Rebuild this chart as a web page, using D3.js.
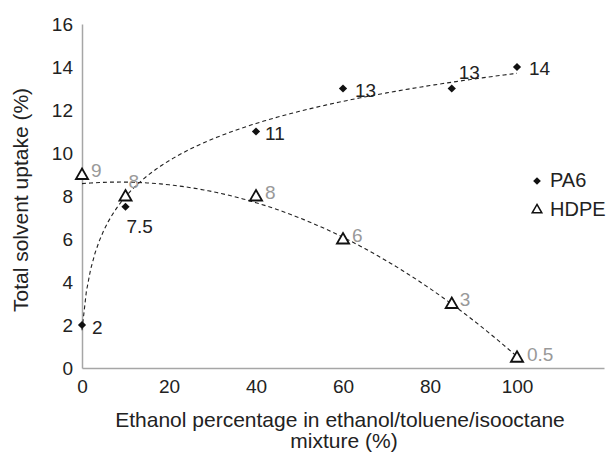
<!DOCTYPE html>
<html>
<head>
<meta charset="utf-8">
<script src="https://cdn.jsdelivr.net/npm/d3@7"></script>
<style>
    body { margin: 0; background: #fff; }
    text { font-family: "Liberation Sans", Arial, sans-serif; }
</style>
</head>
<body>
<div id="chart"></div>
<script>
// Solvent uptake vs ethanol share
const ethanol = [0, 10, 40, 60, 85, 100];
const pa6Uptake = [2, 7.5, 11, 13, 13, 14];
const hdpeUptake = [9, 8, 8, 6, 3, 0.5];
const pa6Labels = ['2', '7.5', '11', '13', '13', '14'];
const hdpeLabels = ['9', '8', '8', '6', '3', '0.5'];
const xTicks = [0, 20, 40, 60, 80, 100];
const yTicks = [0, 2, 4, 6, 8, 10, 12, 14, 16];

(function () {
    const width = 610;
    const height = 454;
    const margin = { top: 24, right: 6, bottom: 86, left: 82 };

    const svg = d3.select('#chart')
        .append('svg')
        .attr('width', width)
        .attr('height', height);

    const x = d3.scaleLinear().domain([0, 120]).range([margin.left, width - margin.right]);
    const y = d3.scaleLinear().domain([0, 16]).range([height - margin.bottom, margin.top]);

    // axes: plain grey lines, no tick marks
    const xAxis = svg.append('g')
        .attr('transform', `translate(0,${y(0)})`)
        .call(d3.axisBottom(x).tickValues(xTicks).tickSize(0).tickPadding(12));
    const yAxis = svg.append('g')
        .attr('transform', `translate(${x(0)},0)`)
        .call(d3.axisLeft(y).tickValues(yTicks).tickSize(0).tickPadding(9));

    [xAxis, yAxis].forEach(g => {
        g.select('.domain').attr('stroke', '#a6a6a6').attr('stroke-width', 1.5);
        g.selectAll('text')
            .attr('font-size', 19)
            .attr('fill', '#222')
            .attr('font-family', '"Liberation Sans", Arial, sans-serif');
    });

    // trend lines fitted from the data arrays
    // PA6: y = a + b*ln(x+1)
    const lx = ethanol.map(v => Math.log(v + 1));
    const mx = d3.mean(lx), my = d3.mean(pa6Uptake);
    const b = d3.sum(lx, (v, i) => (v - mx) * (pa6Uptake[i] - my)) / d3.sum(lx, v => (v - mx) ** 2);
    const a = my - b * mx;
    const pa6Fit = d3.range(0, 100.5, 1).map(v => [v, a + b * Math.log(v + 1)]);

    // HDPE: 2nd order polynomial
    const n = ethanol.length;
    const s = k => d3.sum(ethanol, v => v ** k);
    const t = k => d3.sum(ethanol, (v, i) => v ** k * hdpeUptake[i]);
    const M = [[n, s(1), s(2)], [s(1), s(2), s(3)], [s(2), s(3), s(4)]];
    const R = [t(0), t(1), t(2)];
    const det3 = m => m[0][0] * (m[1][1] * m[2][2] - m[1][2] * m[2][1])
        - m[0][1] * (m[1][0] * m[2][2] - m[1][2] * m[2][0])
        + m[0][2] * (m[1][0] * m[2][1] - m[1][1] * m[2][0]);
    const D = det3(M);
    const coef = [0, 1, 2].map(c => det3(M.map((row, r) => row.map((v, j) => j === c ? R[r] : v))) / D);
    const hdpeFit = d3.range(0, 100.5, 1).map(v => [v, coef[0] + coef[1] * v + coef[2] * v * v]);

    const line = d3.line().x(d => x(d[0])).y(d => y(d[1]));

    [pa6Fit, hdpeFit].forEach(fit => {
        svg.append('path')
            .datum(fit)
            .attr('d', line)
            .attr('fill', 'none')
            .attr('stroke', '#222')
            .attr('stroke-width', 1.1)
            .attr('stroke-dasharray', '4,3');
    });

    const diamond = d3.symbol().type(d3.symbolSquare).size(34);
    const triangle = d3.symbol().type(d3.symbolTriangle).size(64);

    // HDPE points
    svg.selectAll('.hdpe')
        .data(ethanol)
        .enter()
        .append('path')
        .attr('class', 'hdpe')
        .attr('d', triangle)
        .attr('transform', (d, i) => `translate(${x(d)},${y(hdpeUptake[i]) + 1})`)
        .attr('fill', '#fff')
        .attr('stroke', '#111')
        .attr('stroke-width', 1.8);

    // PA6 points
    svg.selectAll('.pa6')
        .data(ethanol)
        .enter()
        .append('path')
        .attr('class', 'pa6')
        .attr('d', diamond)
        .attr('transform', (d, i) => `translate(${x(d)},${y(pa6Uptake[i])}) rotate(45)`)
        .attr('fill', '#111');

    // data labels
    const pa6Off = [[10, 9], [1, 26], [9, 8], [12, 8], [7, -10], [12, 8]];
    svg.selectAll('.pa6-label')
        .data(ethanol)
        .enter()
        .append('text')
        .attr('x', (d, i) => x(d) + pa6Off[i][0])
        .attr('y', (d, i) => y(pa6Uptake[i]) + pa6Off[i][1])
        .attr('font-size', 19)
        .attr('fill', '#222')
        .text((d, i) => pa6Labels[i]);

    const hdpeOff = [[9, 2], [3, -8], [9, 3], [9, 3], [8, 2], [10, 4]];
    svg.selectAll('.hdpe-label')
        .data(ethanol)
        .enter()
        .append('text')
        .attr('x', (d, i) => x(d) + hdpeOff[i][0])
        .attr('y', (d, i) => y(hdpeUptake[i]) + hdpeOff[i][1])
        .attr('font-size', 19)
        .attr('fill', '#999')
        .text((d, i) => hdpeLabels[i]);

    // legend
    const legend = svg.append('g').attr('transform', 'translate(537,181)');
    legend.append('path')
        .attr('d', d3.symbol().type(d3.symbolSquare).size(30))
        .attr('transform', 'rotate(45)')
        .attr('fill', '#111');
    legend.append('text').attr('x', 13).attr('y', 6).attr('font-size', 20).attr('fill', '#222').text('PA6');
    legend.append('path')
        .attr('d', d3.symbol().type(d3.symbolTriangle).size(40))
        .attr('transform', 'translate(0,29)')
        .attr('fill', '#fff')
        .attr('stroke', '#111')
        .attr('stroke-width', 1.5);
    legend.append('text').attr('x', 13).attr('y', 35).attr('font-size', 20).attr('fill', '#222').text('HDPE');

    // axis titles
    svg.append('text')
        .attr('transform', 'translate(28,200) rotate(-90)')
        .attr('text-anchor', 'middle')
        .attr('font-size', 21)
        .attr('fill', '#222')
        .text('Total solvent uptake (%)');

    const xTitle = svg.append('text')
        .attr('text-anchor', 'middle')
        .attr('font-size', 21)
        .attr('fill', '#222');
    xTitle.append('tspan').attr('x', 340).attr('y', 427).text('Ethanol percentage in ethanol/toluene/isooctane');
    xTitle.append('tspan').attr('x', 344).attr('y', 448).text('mixture (%)');
})();
</script>
</body>
</html>
